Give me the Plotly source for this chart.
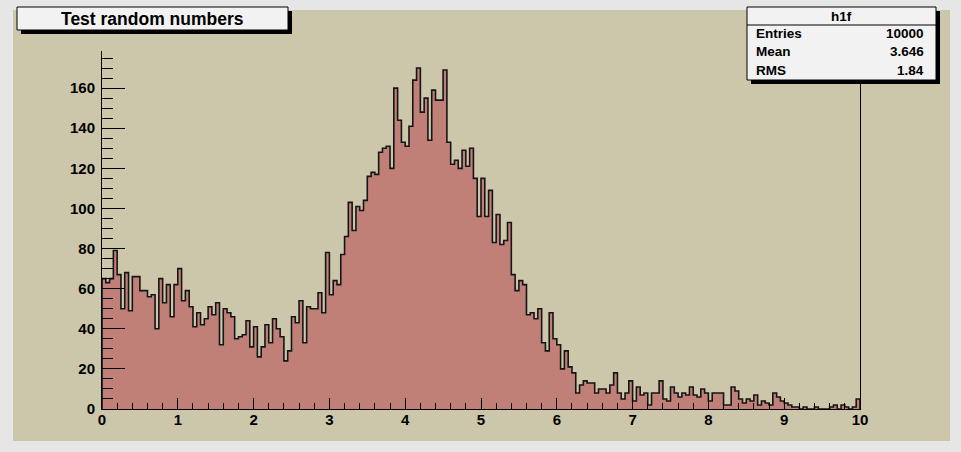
import plotly.graph_objects as go

# ---- data ----
x_min = 0.0
x_max = 10.0
n_bins = 200
counts = [
    65, 63, 65, 79, 67, 50, 68, 49, 66, 66,
    59, 59, 56, 57, 40, 65, 53, 62, 46, 62,
    70, 54, 59, 51, 41, 48, 42, 45, 51, 47,
    53, 32, 50, 48, 46, 35, 36, 37, 44, 31,
    41, 26, 31, 42, 33, 45, 40, 36, 24, 29,
    46, 43, 54, 33, 51, 50, 50, 58, 48, 78,
    57, 64, 62, 77, 86, 103, 89, 101, 99, 104,
    116, 118, 117, 128, 130, 131, 120, 160, 144, 133,
    131, 141, 164, 170, 148, 155, 134, 159, 154, 154,
    169, 133, 122, 124, 120, 129, 121, 130, 115, 96,
    115, 96, 109, 83, 97, 82, 84, 93, 67, 59,
    64, 62, 47, 48, 45, 50, 33, 29, 48, 35,
    32, 20, 29, 21, 18, 8, 12, 14, 13, 13,
    8, 10, 10, 8, 12, 18, 8, 5, 8, 14,
    4, 11, 7, 8, 2, 8, 8, 14, 5, 4,
    11, 8, 6, 8, 7, 11, 7, 6, 10, 8,
    4, 8, 8, 8, 2, 2, 11, 9, 5, 3,
    5, 4, 7, 2, 4, 3, 2, 8, 6, 4,
    3, 2, 1, 1, 0, 1, 0, 0, 1, 0,
    0, 0, 1, 2, 0, 2, 1, 0, 1, 5,
]
hist_name = "h1f"
title_text = "Test random numbers"
stats_labels = ["Entries", "Mean", "RMS"]
stats_values = ["10000", "3.646", "1.84"]
x_ticks = list(range(0, 11))
y_ticks = list(range(0, 161, 20))
y_top = 178.5

# ---- styles ----
CANVAS = "#e6e6e6"
PAD = "#ccc7ab"
FILL = "#c08078"
BOX = "#f2f2f2"
FONT = "Liberation Sans"

W, H = 961, 452
L, R, T, B = 102, 860, 51, 409  # frame in pixels


def px(x):
    return (x - L) / (R - L)


def py(y):
    return (B - y) / (B - T)


bw = (x_max - x_min) / n_bins
edges = [x_min + i * bw for i in range(n_bins)]
xs = [x_min] + edges + [x_max, x_max]
ys = [0] + counts + [counts[-1], 0]

fig = go.Figure()
fig.add_trace(go.Scatter(
    x=xs, y=ys, mode="lines", line_shape="hv",
    line=dict(color="#151515", width=1.6),
    fill="tozeroy", fillcolor=FILL, hoverinfo="skip", showlegend=False,
))

shapes = []
# pad background
shapes.append(dict(type="rect", xref="paper", yref="paper", layer="below",
                   x0=px(13), x1=px(950), y0=py(441), y1=py(10),
                   fillcolor=PAD, line=dict(width=0)))


def box_with_shadow(x0, y0, x1, y1, off=4):
    shapes.append(dict(type="rect", xref="paper", yref="paper", layer="above",
                       x0=px(x0 + off), x1=px(x1 + off), y0=py(y1 + off), y1=py(y0 + off),
                       fillcolor="#000000", line=dict(width=0)))
    shapes.append(dict(type="rect", xref="paper", yref="paper", layer="above",
                       x0=px(x0), x1=px(x1), y0=py(y1), y1=py(y0),
                       fillcolor=BOX, line=dict(color="#000000", width=1)))


# title box
box_with_shadow(17, 7, 288, 30, off=4)
# stats box
box_with_shadow(747, 7, 936, 80, off=4)
shapes.append(dict(type="line", xref="paper", yref="paper", layer="above",
                   x0=px(747), x1=px(936), y0=py(25), y1=py(25),
                   line=dict(color="#000000", width=1)))

annotations = []
annotations.append(dict(xref="paper", yref="paper", x=px(152), y=py(19),
                        text=title_text, showarrow=False, xanchor="center", yanchor="middle",
                        font=dict(family=FONT, size=17.5, color="#000000", weight="bold")))
annotations.append(dict(xref="paper", yref="paper", x=px(841.5), y=py(16.5),
                        text=hist_name, showarrow=False, xanchor="center", yanchor="middle",
                        font=dict(family=FONT, size=13.5, color="#000000", weight="bold")))
for i, (lab, val) in enumerate(zip(stats_labels, stats_values)):
    yy = 33.5 + i * 18.3
    annotations.append(dict(xref="paper", yref="paper", x=px(754), y=py(yy),
                            text=lab, showarrow=False, xanchor="left", yanchor="middle",
                            font=dict(family=FONT, size=13.5, color="#000000", weight="bold")))
    annotations.append(dict(xref="paper", yref="paper", x=px(926), y=py(yy),
                            text=val, showarrow=False, xanchor="right", yanchor="middle",
                            font=dict(family=FONT, size=13.5, color="#000000", weight="bold")))

tickfont = dict(family=FONT, size=15, color="#000000", weight="bold")

fig.update_layout(
    width=W, height=H,
    margin=dict(l=L, r=W - R, t=T, b=H - B, pad=0),
    paper_bgcolor=CANVAS,
    plot_bgcolor="rgba(0,0,0,0)",
    shapes=shapes,
    annotations=annotations,
    showlegend=False,
    xaxis=dict(
        range=[x_min, x_max], showgrid=False, zeroline=False,
        showline=True, linecolor="#000000", linewidth=1, mirror=False,
        ticks="inside", ticklen=11, tickwidth=1, tickcolor="#000000",
        tickvals=x_ticks, ticktext=[str(v) for v in x_ticks],
        tickfont=tickfont, ticklabelstandoff=-3,
        minor=dict(ticks="inside", ticklen=6, tickwidth=1, tickcolor="#000000", dtick=0.2, showgrid=False),
        fixedrange=True,
    ),
    yaxis=dict(
        range=[0, y_top], showgrid=False, zeroline=False,
        showline=True, linecolor="#000000", linewidth=1, mirror=True,
        ticks="inside", ticklen=23, tickwidth=1, tickcolor="#000000",
        tickvals=y_ticks, ticktext=[str(v) for v in y_ticks],
        tickfont=tickfont, ticklabelstandoff=3,
        minor=dict(ticks="inside", ticklen=11, tickwidth=1, tickcolor="#000000", dtick=5, showgrid=False),
        fixedrange=True,
    ),
)

fig.write_html("out.html", config={"displayModeBar": False, "staticPlot": True})
